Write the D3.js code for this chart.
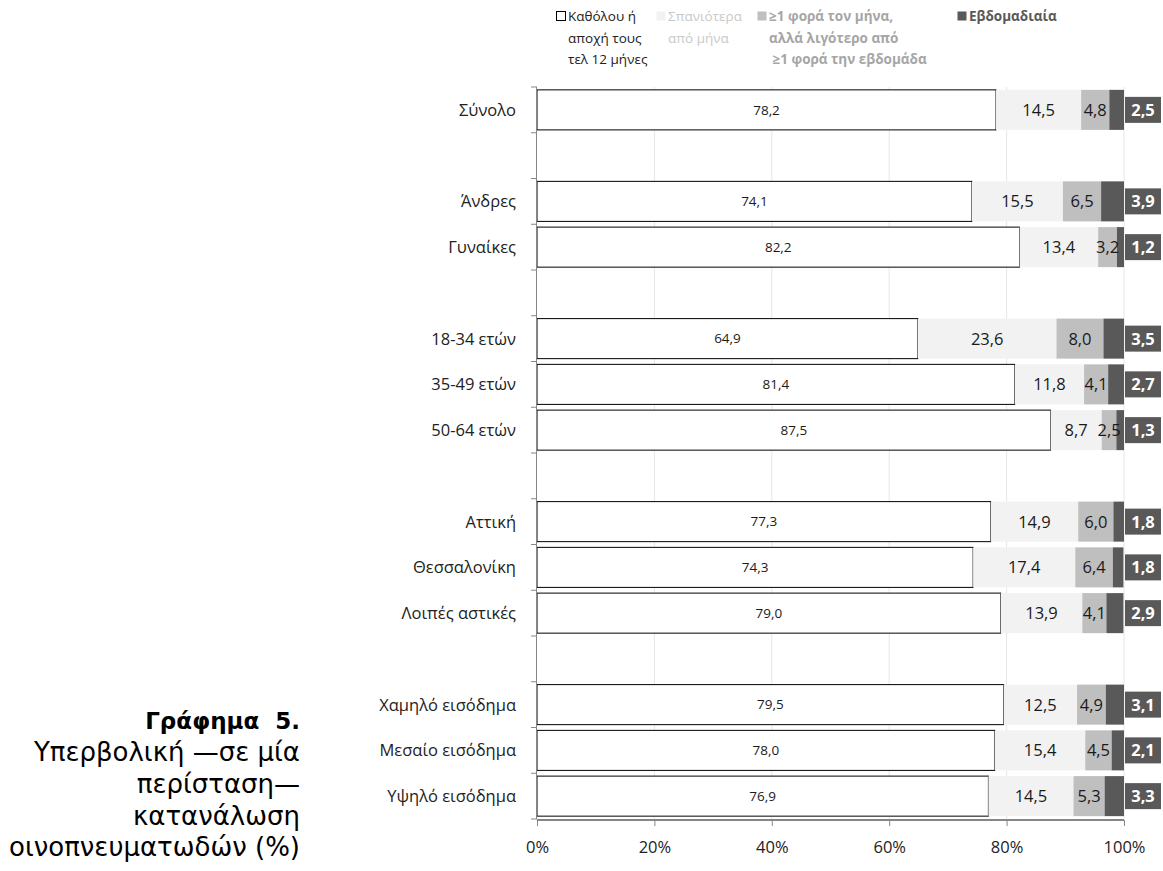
<!DOCTYPE html>
<html>
<head>
<meta charset="utf-8">
<script src="https://cdn.jsdelivr.net/npm/d3@7"></script>
<style>
    body { margin: 0; background: #fff; }
    text { font-family: "Open Sans", sans-serif; }
</style>
</head>
<body>
<div id="chart"></div>
<script>
// rows, blank entries are the empty spacer rows between groups
var categories = ['Σύνολο', '', 'Άνδρες', 'Γυναίκες', ' ', '18-34 ετών', '35-49 ετών', '50-64 ετών', '  ',
    'Αττική', 'Θεσσαλονίκη', 'Λοιπές αστικές', '   ', 'Χαμηλό εισόδημα', 'Μεσαίο εισόδημα', 'Υψηλό εισόδημα'];
var groups = ['Σύνολο', 'Άνδρες', 'Γυναίκες', '18-34 ετών', '35-49 ετών', '50-64 ετών',
    'Αττική', 'Θεσσαλονίκη', 'Λοιπές αστικές', 'Χαμηλό εισόδημα', 'Μεσαίο εισόδημα', 'Υψηλό εισόδημα'];
var never   = [78.2, 74.1, 82.2, 64.9, 81.4, 87.5, 77.3, 74.3, 79.0, 79.5, 78.0, 76.9];
var rarely  = [14.5, 15.5, 13.4, 23.6, 11.8, 8.7, 14.9, 17.4, 13.9, 12.5, 15.4, 14.5];
var monthly = [4.8, 6.5, 3.2, 8.0, 4.1, 2.5, 6.0, 6.4, 4.1, 4.9, 4.5, 5.3];
var weekly  = [2.5, 3.9, 1.2, 3.5, 2.7, 1.3, 1.8, 1.8, 2.9, 3.1, 2.1, 3.3];
var seriesNames = [
    ['Καθόλου ή', 'αποχή τους', 'τελ 12 μήνες'],
    ['Σπανιότερα', 'από μήνα'],
    ['≥1 φορά τον μήνα,', 'αλλά λιγότερο από', ' ≥1 φορά την εβδομάδα'],
    ['Εβδομαδιαία']
];
var xTicks = [0, 20, 40, 60, 80, 100];
var titleLines = ['Υπερβολική —σε μία', 'περίσταση—', 'κατανάλωση', 'οινοπνευματωδών (%)'];

var width = 1163, height = 871;
var fills = ['#ffffff', '#f2f2f2', '#bfbfbf', '#595959'];
var legendText = ['#222222', '#c9c9c9', '#a6a6a6', '#595959'];
var legendX = [556, 656, 757, 957];

var gr = d3.formatLocale({ decimal: ',', thousands: '.', grouping: [3], currency: ['', '€'] });
var fmt = gr.format('.1f');

var x = d3.scaleLinear()
    .domain([0, 100])
    .range([537, 1124]);

var y = d3.scaleBand()
    .domain(categories)
    .range([87, 819])
    .paddingInner(0.125)
    .paddingOuter(0.0625);

var svg = d3.select('#chart')
    .append('svg')
    .attr('width', width)
    .attr('height', height);

// stacked table
var rows = groups.map(function (g, i) {
    return { name: g, never: never[i], rarely: rarely[i], monthly: monthly[i], weekly: weekly[i] };
});
var keys = ['never', 'rarely', 'monthly', 'weekly'];
var stacked = d3.stack().keys(keys)(rows);

// vertical grid lines
svg.append('g')
    .selectAll('line')
    .data(xTicks.filter(function (d) { return d > 0; }))
    .join('line')
    .attr('x1', function (d) { return x(d); })
    .attr('x2', function (d) { return x(d); })
    .attr('y1', y.range()[0])
    .attr('y2', y.range()[1])
    .attr('stroke', '#e6e6e6');

// bars
var layers = svg.append('g')
    .selectAll('g')
    .data(stacked)
    .join('g')
    .attr('fill', function (d, i) { return fills[i]; });

layers.selectAll('rect')
    .data(function (d) { return d; })
    .join('rect')
    .attr('x', function (d) { return x(d[0]); })
    .attr('y', function (d) { return y(d.data.name); })
    .attr('width', function (d) { return x(d[1]) - x(d[0]); })
    .attr('height', y.bandwidth())
    .attr('stroke', function (d) { return this.parentNode.__data__.key === 'never' ? '#000' : 'none'; })
    .attr('stroke-width', 1);

// labels of first three series, centred in segment
stacked.slice(0, 3).forEach(function (layer, li) {
    svg.append('g')
        .selectAll('text')
        .data(layer)
        .join('text')
        .attr('x', function (d) { return (x(d[0]) + x(d[1])) / 2; })
        .attr('y', function (d) { return y(d.data.name) + y.bandwidth() / 2; })
        .attr('dy', '0.36em')
        .attr('text-anchor', 'middle')
        .attr('font-size', li === 0 ? 13.5 : 16.5)
        .attr('fill', '#1a1a1a')
        .text(function (d) { return fmt(d[1] - d[0]); });
});

// weekly labels sit in a dark box past 100%
var wk = svg.append('g')
    .selectAll('g')
    .data(stacked[3])
    .join('g')
    .attr('transform', function (d) { return 'translate(' + (x(100) + 1) + ',' + (y(d.data.name) + y.bandwidth() / 2) + ')'; });

wk.append('rect')
    .attr('x', 0)
    .attr('y', -13)
    .attr('width', 36)
    .attr('height', 26)
    .attr('fill', fills[3]);

wk.append('text')
    .attr('x', 18)
    .attr('dy', '0.36em')
    .attr('text-anchor', 'middle')
    .attr('font-size', 16.5)
    .attr('font-weight', 'bold')
    .attr('fill', '#fff')
    .text(function (d) { return fmt(d[1] - d[0]); });

// y axis: line plus ticks at band edges
var edges = categories.map(function (c) { return y(c) - y.step() * y.paddingInner() / 2; });
edges.push(y.range()[1]);

svg.append('line')
    .attr('x1', x(0) - 0.5)
    .attr('x2', x(0) - 0.5)
    .attr('y1', y.range()[0])
    .attr('y2', y.range()[1])
    .attr('stroke', '#868686');

svg.append('g')
    .selectAll('line')
    .data(edges)
    .join('line')
    .attr('x1', x(0) - 6)
    .attr('x2', x(0))
    .attr('y1', function (d) { return d; })
    .attr('y2', function (d) { return d; })
    .attr('stroke', '#868686');

svg.append('g')
    .selectAll('text')
    .data(groups)
    .join('text')
    .attr('x', 516)
    .attr('y', function (d) { return y(d) + y.bandwidth() / 2; })
    .attr('dy', '0.36em')
    .attr('text-anchor', 'end')
    .attr('font-size', 16.5)
    .attr('fill', '#222')
    .text(function (d) { return d; });

// x axis
var xAxis = svg.append('g')
    .attr('transform', 'translate(0,' + (y.range()[1] + 1) + ')')
    .call(d3.axisBottom(x).tickValues(xTicks).tickSize(6).tickFormat(function (d) { return d + '%'; }));

xAxis.select('.domain')
    .attr('stroke', '#868686')
    .attr('stroke-width', 2)
    .attr('d', 'M' + x(0) + ',0H' + x(100));
xAxis.selectAll('.tick line').attr('stroke', '#868686');
xAxis.selectAll('.tick text')
    .attr('font-family', '"Open Sans", sans-serif')
    .attr('font-size', 16.5)
    .attr('fill', '#222')
    .attr('dy', '1.45em');

// legend
var legend = svg.append('g')
    .selectAll('g')
    .data(seriesNames)
    .join('g')
    .attr('transform', function (d, i) { return 'translate(' + legendX[i] + ',0)'; });

legend.append('rect')
    .attr('x', 0.5)
    .attr('y', 11.5)
    .attr('width', 9)
    .attr('height', 9)
    .attr('fill', function (d, i) { return fills[i]; })
    .attr('stroke', function (d, i) { return i === 0 ? '#000' : 'none'; });

legend.each(function (lines, i) {
    d3.select(this).append('text')
        .attr('font-size', 13.5)
        .attr('font-weight', i >= 2 ? 'bold' : 'normal')
        .attr('fill', legendText[i])
        .selectAll('tspan')
        .data(lines)
        .join('tspan')
        .attr('x', 12)
        .attr('y', function (d, j) { return 21 + j * 21.5; })
        .attr('xml:space', 'preserve')
        .style('white-space', 'pre')
        .text(function (d) { return d; });
});

// title block on the left
var title = svg.append('text')
    .attr('text-anchor', 'end')
    .attr('fill', '#000')
    .style('font-family', '"DejaVu Sans", Verdana, sans-serif');

title.append('tspan')
    .attr('x', 300)
    .attr('y', 729)
    .attr('font-size', 23)
    .attr('font-weight', 'bold')
    .attr('xml:space', 'preserve')
    .style('white-space', 'pre')
    .text('Γράφημα  5.');

title.selectAll('tspan.line')
    .data(titleLines)
    .join('tspan')
    .attr('class', 'line')
    .attr('x', 300)
    .attr('y', function (d, i) { return 761 + i * 31.8; })
    .attr('font-size', 26)
    .text(function (d) { return d; });
</script>
</body>
</html>
